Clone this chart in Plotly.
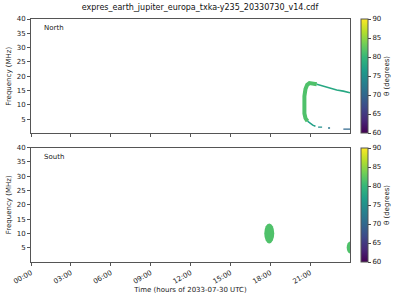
import plotly.graph_objects as go
from plotly.subplots import make_subplots
from plotly.colors import sample_colorscale

# ---------------- data ----------------
title = "expres_earth_jupiter_europa_txka-y235_20330730_v14.cdf"
tick_hours = [0, 3, 6, 9, 12, 15, 18, 21]
tick_labels = ["00:00", "03:00", "06:00", "09:00", "12:00", "15:00", "18:00", "21:00"]
freq_ticks = [5, 10, 15, 20, 25, 30, 35, 40]
theta_ticks = [60, 65, 70, 75, 80, 85, 90]

# North hemisphere emission (time in hours, frequency MHz, theta deg)
arc_t = [21.5, 21.2, 20.95, 20.78, 20.65, 20.57, 20.55, 20.57, 20.65, 20.8]
arc_f = [17.2, 17.6, 17.6, 17.0, 15.5, 13.0, 10.0, 7.0, 5.3, 4.3]
arc_theta = 81.5

upper_t = [21.5, 22.0, 22.5, 23.0, 23.5, 24.0]
upper_f = [17.2, 16.5, 15.8, 15.2, 14.8, 14.2]
upper_theta = 78

lower_t = [20.8, 21.0, 21.2, 21.4]
lower_f = [4.3, 3.5, 2.9, 2.5]
lower_theta = 77

dash_t = [[21.6, 21.9], [22.35, 22.5], [23.5, 24.0]]
dash_f = [[2.2, 2.2], [1.9, 1.9], [1.5, 1.5]]
dash_theta = [75, 72, 70]

# South hemisphere emission blobs: time span, freq span, theta
south_t0 = [17.55, 23.75]
south_t1 = [18.3, 24.3]
south_f0 = [6.5, 3.0]
south_f1 = [13.5, 7.2]
south_theta = [81.5, 81.5]

TMIN, TMAX = 60, 90


def col(th):
    return sample_colorscale("Viridis", [(th - TMIN) / (TMAX - TMIN)])[0]


fig = make_subplots(rows=2, cols=1, shared_xaxes=True, vertical_spacing=0.058)

# North
fig.add_trace(go.Scatter(x=arc_t, y=arc_f, mode="lines", line=dict(color=col(arc_theta), width=4),
                         showlegend=False, hoverinfo="skip"), row=1, col=1)
fig.add_trace(go.Scatter(x=upper_t, y=upper_f, mode="lines", line=dict(color=col(upper_theta), width=1.6),
                         showlegend=False, hoverinfo="skip"), row=1, col=1)
fig.add_trace(go.Scatter(x=lower_t, y=lower_f, mode="lines", line=dict(color=col(lower_theta), width=1.5),
                         showlegend=False, hoverinfo="skip"), row=1, col=1)
for t, f, th in zip(dash_t, dash_f, dash_theta):
    fig.add_trace(go.Scatter(x=t, y=f, mode="lines", line=dict(color=col(th), width=1.3),
                             showlegend=False, hoverinfo="skip"), row=1, col=1)
# colorbar carrier traces
fig.add_trace(go.Scatter(x=arc_t, y=arc_f, mode="markers",
                         marker=dict(color=[arc_theta] * len(arc_t), coloraxis="coloraxis", opacity=0, size=1),
                         showlegend=False, hoverinfo="skip"), row=1, col=1)

# South
for t0, t1, f0, f1, th in zip(south_t0, south_t1, south_f0, south_f1, south_theta):
    fig.add_shape(type="circle", x0=t0, x1=t1, y0=f0, y1=f1, xref="x2", yref="y2",
                  fillcolor=col(th), line=dict(width=0))
fig.add_trace(go.Scatter(x=[(a + b) / 2 for a, b in zip(south_t0, south_t1)],
                         y=[(a + b) / 2 for a, b in zip(south_f0, south_f1)], mode="markers",
                         marker=dict(color=south_theta, coloraxis="coloraxis2", opacity=0, size=1),
                         showlegend=False, hoverinfo="skip"), row=2, col=1)

font = dict(family="DejaVu Sans", size=7, color="#222")
axis_common = dict(showline=True, linecolor="#555", linewidth=1, mirror=True, ticks="outside",
                   ticklen=3, tickcolor="#555", showgrid=False, zeroline=False, tickfont=font,
                   automargin=False)

fig.update_xaxes(range=[0, 24], tickvals=tick_hours, ticktext=tick_labels, **axis_common)
fig.update_xaxes(showticklabels=False, row=1, col=1)
fig.update_xaxes(tickangle=-30, title=dict(text="Time (hours of 2033-07-30 UTC)", font=font, standoff=2),
                 row=2, col=1)
fig.update_yaxes(range=[0, 40], tickvals=freq_ticks, **axis_common,
                 title=dict(text="Frequency (MHz)", font=font, standoff=4))

cb_common = dict(thickness=7, x=1.034, xanchor="left", xpad=0, ypad=0, tickvals=theta_ticks,
                 ticks="outside", ticklen=3,
                 tickfont=font, outlinecolor="#555", outlinewidth=1,
                 title=dict(text="θ (degrees)", side="right", font=font))
fig.update_layout(
    width=400, height=300,
    margin=dict(l=31, r=50, t=19, b=38, autoexpand=False),
    plot_bgcolor="white", paper_bgcolor="white",
    font=font,
    title=dict(text=title, x=0.5, xanchor="center", y=0.985, yanchor="top",
               font=dict(family="DejaVu Sans", size=8, color="#111")),
    coloraxis=dict(colorscale="Viridis", cmin=TMIN, cmax=TMAX,
                   colorbar=dict(y=1, yanchor="top", len=0.471, **cb_common)),
    coloraxis2=dict(colorscale="Viridis", cmin=TMIN, cmax=TMAX,
                    colorbar=dict(y=0, yanchor="bottom", len=0.471, **cb_common)),
)
fig.add_annotation(text="North", xref="x domain", yref="y domain", x=0.035, y=0.92,
                   showarrow=False, xanchor="left", yanchor="middle", font=font)
fig.add_annotation(text="South", xref="x2 domain", yref="y2 domain", x=0.035, y=0.92,
                   showarrow=False, xanchor="left", yanchor="middle", font=font)

fig.write_html("out.html")
